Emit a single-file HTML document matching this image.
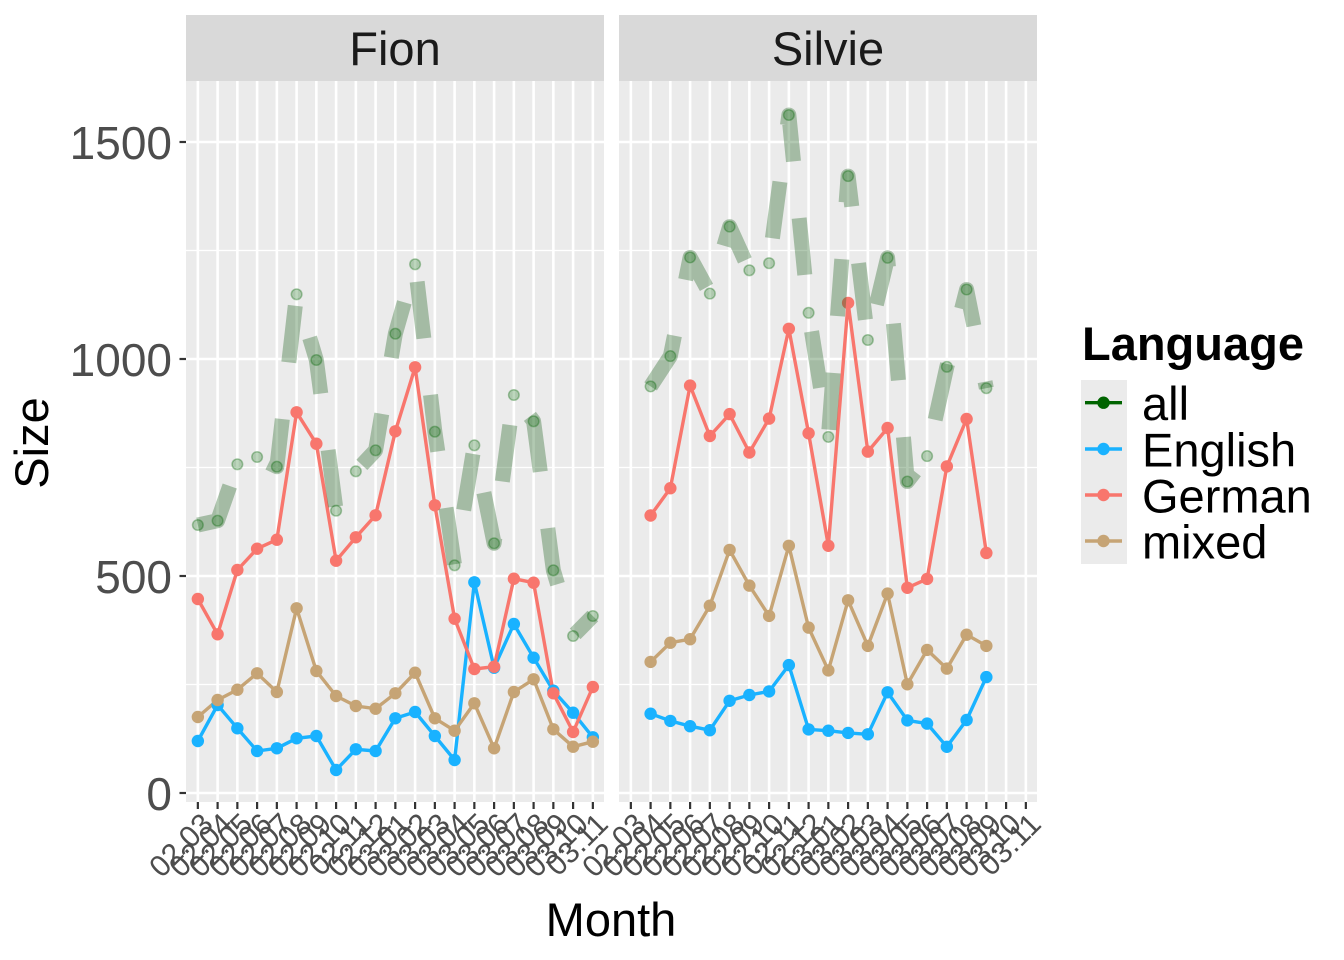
<!DOCTYPE html>
<html>
<head>
<meta charset="utf-8">
<style>
  html,body{margin:0;padding:0;background:#fff;}
  svg{display:block;font-family:"Liberation Sans",Arial,sans-serif;}
</style>
</head>
<body>
<svg width="1344" height="960" viewBox="0 0 1344 960" xmlns="http://www.w3.org/2000/svg">
<defs>
  <marker id="mB" viewBox="0 0 14 14" refX="7" refY="7" markerWidth="14" markerHeight="14" markerUnits="userSpaceOnUse"><circle cx="7" cy="7" r="6.2" fill="#19B2FF"/></marker>
  <marker id="mR" viewBox="0 0 14 14" refX="7" refY="7" markerWidth="14" markerHeight="14" markerUnits="userSpaceOnUse"><circle cx="7" cy="7" r="6.2" fill="#F8766D"/></marker>
  <marker id="mT" viewBox="0 0 14 14" refX="7" refY="7" markerWidth="14" markerHeight="14" markerUnits="userSpaceOnUse"><circle cx="7" cy="7" r="6.2" fill="#C6A475"/></marker>
  <marker id="mG" viewBox="0 0 14 14" refX="7" refY="7" markerWidth="14" markerHeight="14" markerUnits="userSpaceOnUse"><circle cx="7" cy="7" r="5.3" fill="rgba(0,100,0,0.26)" stroke="rgba(0,100,0,0.33)" stroke-width="1.5"/></marker>
</defs>

<!-- strips -->
<rect x="186" y="15" width="418" height="66" fill="#D9D9D9"/>
<rect x="619" y="15" width="418" height="66" fill="#D9D9D9"/>
<text x="395" y="65" font-size="47" fill="#1A1A1A" text-anchor="middle">Fion</text>
<text x="828" y="65" font-size="47" fill="#1A1A1A" text-anchor="middle">Silvie</text>

<!-- panels -->
<rect x="186" y="81" width="418" height="721" fill="#EBEBEB"/>
<rect x="619" y="81" width="418" height="721" fill="#EBEBEB"/>

<!-- minor horizontal grid -->
<g stroke="#FFFFFF" stroke-width="1.3">
  <line x1="186" x2="604" y1="250.5" y2="250.5"/><line x1="186" x2="604" y1="467.5" y2="467.5"/><line x1="186" x2="604" y1="684.5" y2="684.5"/>
  <line x1="619" x2="1037" y1="250.5" y2="250.5"/><line x1="619" x2="1037" y1="467.5" y2="467.5"/><line x1="619" x2="1037" y1="684.5" y2="684.5"/>
</g>
<!-- major horizontal grid -->
<g stroke="#FFFFFF" stroke-width="2.6">
  <line x1="186" x2="604" y1="142" y2="142"/><line x1="186" x2="604" y1="359" y2="359"/><line x1="186" x2="604" y1="576" y2="576"/><line x1="186" x2="604" y1="793" y2="793"/>
  <line x1="619" x2="1037" y1="142" y2="142"/><line x1="619" x2="1037" y1="359" y2="359"/><line x1="619" x2="1037" y1="576" y2="576"/><line x1="619" x2="1037" y1="793" y2="793"/>
</g>
<!-- vertical grid -->
<g stroke="#FFFFFF" stroke-width="2.6">
  <line x1="197.85" x2="197.85" y1="81" y2="802"/><line x1="217.6" x2="217.6" y1="81" y2="802"/><line x1="237.35" x2="237.35" y1="81" y2="802"/><line x1="257.1" x2="257.1" y1="81" y2="802"/><line x1="276.85" x2="276.85" y1="81" y2="802"/><line x1="296.6" x2="296.6" y1="81" y2="802"/><line x1="316.35" x2="316.35" y1="81" y2="802"/><line x1="336.1" x2="336.1" y1="81" y2="802"/><line x1="355.85" x2="355.85" y1="81" y2="802"/><line x1="375.6" x2="375.6" y1="81" y2="802"/><line x1="395.35" x2="395.35" y1="81" y2="802"/><line x1="415.1" x2="415.1" y1="81" y2="802"/><line x1="434.85" x2="434.85" y1="81" y2="802"/><line x1="454.6" x2="454.6" y1="81" y2="802"/><line x1="474.35" x2="474.35" y1="81" y2="802"/><line x1="494.1" x2="494.1" y1="81" y2="802"/><line x1="513.85" x2="513.85" y1="81" y2="802"/><line x1="533.6" x2="533.6" y1="81" y2="802"/><line x1="553.35" x2="553.35" y1="81" y2="802"/><line x1="573.1" x2="573.1" y1="81" y2="802"/><line x1="592.85" x2="592.85" y1="81" y2="802"/>
  <line x1="630.85" x2="630.85" y1="81" y2="802"/><line x1="650.6" x2="650.6" y1="81" y2="802"/><line x1="670.35" x2="670.35" y1="81" y2="802"/><line x1="690.1" x2="690.1" y1="81" y2="802"/><line x1="709.85" x2="709.85" y1="81" y2="802"/><line x1="729.6" x2="729.6" y1="81" y2="802"/><line x1="749.35" x2="749.35" y1="81" y2="802"/><line x1="769.1" x2="769.1" y1="81" y2="802"/><line x1="788.85" x2="788.85" y1="81" y2="802"/><line x1="808.6" x2="808.6" y1="81" y2="802"/><line x1="828.35" x2="828.35" y1="81" y2="802"/><line x1="848.1" x2="848.1" y1="81" y2="802"/><line x1="867.85" x2="867.85" y1="81" y2="802"/><line x1="887.6" x2="887.6" y1="81" y2="802"/><line x1="907.35" x2="907.35" y1="81" y2="802"/><line x1="927.1" x2="927.1" y1="81" y2="802"/><line x1="946.85" x2="946.85" y1="81" y2="802"/><line x1="966.6" x2="966.6" y1="81" y2="802"/><line x1="986.35" x2="986.35" y1="81" y2="802"/><line x1="1006.1" x2="1006.1" y1="81" y2="802"/><line x1="1025.85" x2="1025.85" y1="81" y2="802"/>
</g>

<!-- colored lines -->
<g fill="none" stroke-width="3.4" stroke-linejoin="round">
  <polyline stroke="#19B2FF" points="197.85,741 217.6,705 237.35,728.3 257.1,751 276.85,748.3 296.6,738.3 316.35,736 336.1,770 355.85,749.3 375.6,751 395.35,718.3 415.1,712 434.85,736 454.6,760 474.35,582.3 494.1,667.7 513.85,624 533.6,657.7 553.35,690.7 573.1,712.7 592.85,737.3"/>
  <polyline stroke="#F8766D" points="197.85,599 217.6,634.3 237.35,570 257.1,548.7 276.85,539.7 296.6,412.3 316.35,443.7 336.1,560.7 355.85,537.3 375.6,515.3 395.35,431.3 415.1,367.3 434.85,505.3 454.6,618.7 474.35,669 494.1,666.7 513.85,578.7 533.6,582.7 553.35,693.3 573.1,732 592.85,687"/>
  <polyline stroke="#C6A475" points="197.85,717 217.6,700 237.35,689.7 257.1,673.3 276.85,692 296.6,608.3 316.35,671 336.1,696 355.85,706 375.6,708.7 395.35,693.3 415.1,672.7 434.85,718.3 454.6,730.7 474.35,703.3 494.1,748.3 513.85,692 533.6,679.3 553.35,729.3 573.1,746.7 592.85,741.7"/>
  <polyline stroke="#19B2FF" points="650.6,713.7 670.35,720.9 690.1,726.2 709.85,730.2 729.6,700.8 749.35,695 769.1,691.4 788.85,665.1 808.6,729.4 828.35,730.7 848.1,732.9 867.85,734.3 887.6,692.3 907.35,720.4 927.1,723.6 946.85,746.8 966.6,720 986.35,677.1"/>
  <polyline stroke="#F8766D" points="650.6,515.5 670.35,488.2 690.1,385.6 709.85,436 729.6,414.1 749.35,452.5 769.1,418.6 788.85,328.8 808.6,433.3 828.35,545.8 848.1,302.9 867.85,451.6 887.6,428 907.35,587.8 927.1,578.9 946.85,466.4 966.6,419 986.35,553"/>
  <polyline stroke="#C6A475" points="650.6,661.9 670.35,642.7 690.1,639.2 709.85,605.7 729.6,549.9 749.35,585.6 769.1,615.9 788.85,545.8 808.6,627.6 828.35,670.4 848.1,600.3 867.85,645.9 887.6,593.6 907.35,684.3 927.1,649.9 946.85,668.6 966.6,634.7 986.35,645.9"/>
</g>
<!-- points -->
<g fill="none" stroke="none">
  <polyline marker-start="url(#mB)" marker-mid="url(#mB)" marker-end="url(#mB)" points="197.85,741 217.6,705 237.35,728.3 257.1,751 276.85,748.3 296.6,738.3 316.35,736 336.1,770 355.85,749.3 375.6,751 395.35,718.3 415.1,712 434.85,736 454.6,760 474.35,582.3 494.1,667.7 513.85,624 533.6,657.7 553.35,690.7 573.1,712.7 592.85,737.3"/>
  <polyline marker-start="url(#mR)" marker-mid="url(#mR)" marker-end="url(#mR)" points="197.85,599 217.6,634.3 237.35,570 257.1,548.7 276.85,539.7 296.6,412.3 316.35,443.7 336.1,560.7 355.85,537.3 375.6,515.3 395.35,431.3 415.1,367.3 434.85,505.3 454.6,618.7 474.35,669 494.1,666.7 513.85,578.7 533.6,582.7 553.35,693.3 573.1,732 592.85,687"/>
  <polyline marker-start="url(#mT)" marker-mid="url(#mT)" marker-end="url(#mT)" points="197.85,717 217.6,700 237.35,689.7 257.1,673.3 276.85,692 296.6,608.3 316.35,671 336.1,696 355.85,706 375.6,708.7 395.35,693.3 415.1,672.7 434.85,718.3 454.6,730.7 474.35,703.3 494.1,748.3 513.85,692 533.6,679.3 553.35,729.3 573.1,746.7 592.85,741.7"/>
  <polyline marker-start="url(#mB)" marker-mid="url(#mB)" marker-end="url(#mB)" points="650.6,713.7 670.35,720.9 690.1,726.2 709.85,730.2 729.6,700.8 749.35,695 769.1,691.4 788.85,665.1 808.6,729.4 828.35,730.7 848.1,732.9 867.85,734.3 887.6,692.3 907.35,720.4 927.1,723.6 946.85,746.8 966.6,720 986.35,677.1"/>
  <polyline marker-start="url(#mR)" marker-mid="url(#mR)" marker-end="url(#mR)" points="650.6,515.5 670.35,488.2 690.1,385.6 709.85,436 729.6,414.1 749.35,452.5 769.1,418.6 788.85,328.8 808.6,433.3 828.35,545.8 848.1,302.9 867.85,451.6 887.6,428 907.35,587.8 927.1,578.9 946.85,466.4 966.6,419 986.35,553"/>
  <polyline marker-start="url(#mT)" marker-mid="url(#mT)" marker-end="url(#mT)" points="650.6,661.9 670.35,642.7 690.1,639.2 709.85,605.7 729.6,549.9 749.35,585.6 769.1,615.9 788.85,545.8 808.6,627.6 828.35,670.4 848.1,600.3 867.85,645.9 887.6,593.6 907.35,684.3 927.1,649.9 946.85,668.6 966.6,634.7 986.35,645.9"/>
</g>

<!-- "all" dashed thick line -->
<g fill="none" stroke="rgb(20,90,20)" stroke-opacity="0.33" stroke-width="15" stroke-dasharray="57 57" stroke-linecap="butt" stroke-linejoin="round">
  <polyline points="197.85,525 217.6,520.7 237.35,464.3 257.1,457 276.85,466.7 296.6,294.3 316.35,360 336.1,510.7 355.85,471.3 375.6,450.3 395.35,333.7 415.1,264.3 434.85,431.7 454.6,565.3 474.35,445.3 494.1,543.3 513.85,395 533.6,421.3 553.35,570.3 573.1,636 592.85,616"/>
  <polyline points="650.6,386.4 670.35,356.1 690.1,257.4 709.85,293.6 729.6,226.6 749.35,270.3 769.1,263.2 788.85,115 808.6,312.8 828.35,436.9 848.1,176.1 867.85,340 887.6,257.8 907.35,481.5 927.1,456.1 946.85,366.8 966.6,289.5 986.35,388.2"/>
</g>
<g fill="none" stroke="none">
  <polyline marker-start="url(#mG)" marker-mid="url(#mG)" marker-end="url(#mG)" points="197.85,525 217.6,520.7 237.35,464.3 257.1,457 276.85,466.7 296.6,294.3 316.35,360 336.1,510.7 355.85,471.3 375.6,450.3 395.35,333.7 415.1,264.3 434.85,431.7 454.6,565.3 474.35,445.3 494.1,543.3 513.85,395 533.6,421.3 553.35,570.3 573.1,636 592.85,616"/>
  <polyline marker-start="url(#mG)" marker-mid="url(#mG)" marker-end="url(#mG)" points="650.6,386.4 670.35,356.1 690.1,257.4 709.85,293.6 729.6,226.6 749.35,270.3 769.1,263.2 788.85,115 808.6,312.8 828.35,436.9 848.1,176.1 867.85,340 887.6,257.8 907.35,481.5 927.1,456.1 946.85,366.8 966.6,289.5 986.35,388.2"/>
</g>

<!-- y axis ticks & labels -->
<g stroke="#333333" stroke-width="2.2">
  <line x1="179.5" x2="186" y1="142" y2="142"/><line x1="179.5" x2="186" y1="359" y2="359"/><line x1="179.5" x2="186" y1="576" y2="576"/><line x1="179.5" x2="186" y1="793" y2="793"/>
</g>
<g font-size="46" fill="#4D4D4D" text-anchor="end">
  <text x="172" y="159">1500</text>
  <text x="172" y="376">1000</text>
  <text x="172" y="593">500</text>
  <text x="172" y="810">0</text>
</g>

<!-- x axis ticks -->
<g stroke="#333333" stroke-width="2.2">
  <line x1="197.85" x2="197.85" y1="802" y2="809"/><line x1="217.6" x2="217.6" y1="802" y2="809"/><line x1="237.35" x2="237.35" y1="802" y2="809"/><line x1="257.1" x2="257.1" y1="802" y2="809"/><line x1="276.85" x2="276.85" y1="802" y2="809"/><line x1="296.6" x2="296.6" y1="802" y2="809"/><line x1="316.35" x2="316.35" y1="802" y2="809"/><line x1="336.1" x2="336.1" y1="802" y2="809"/><line x1="355.85" x2="355.85" y1="802" y2="809"/><line x1="375.6" x2="375.6" y1="802" y2="809"/><line x1="395.35" x2="395.35" y1="802" y2="809"/><line x1="415.1" x2="415.1" y1="802" y2="809"/><line x1="434.85" x2="434.85" y1="802" y2="809"/><line x1="454.6" x2="454.6" y1="802" y2="809"/><line x1="474.35" x2="474.35" y1="802" y2="809"/><line x1="494.1" x2="494.1" y1="802" y2="809"/><line x1="513.85" x2="513.85" y1="802" y2="809"/><line x1="533.6" x2="533.6" y1="802" y2="809"/><line x1="553.35" x2="553.35" y1="802" y2="809"/><line x1="573.1" x2="573.1" y1="802" y2="809"/><line x1="592.85" x2="592.85" y1="802" y2="809"/>
  <line x1="630.85" x2="630.85" y1="802" y2="809"/><line x1="650.6" x2="650.6" y1="802" y2="809"/><line x1="670.35" x2="670.35" y1="802" y2="809"/><line x1="690.1" x2="690.1" y1="802" y2="809"/><line x1="709.85" x2="709.85" y1="802" y2="809"/><line x1="729.6" x2="729.6" y1="802" y2="809"/><line x1="749.35" x2="749.35" y1="802" y2="809"/><line x1="769.1" x2="769.1" y1="802" y2="809"/><line x1="788.85" x2="788.85" y1="802" y2="809"/><line x1="808.6" x2="808.6" y1="802" y2="809"/><line x1="828.35" x2="828.35" y1="802" y2="809"/><line x1="848.1" x2="848.1" y1="802" y2="809"/><line x1="867.85" x2="867.85" y1="802" y2="809"/><line x1="887.6" x2="887.6" y1="802" y2="809"/><line x1="907.35" x2="907.35" y1="802" y2="809"/><line x1="927.1" x2="927.1" y1="802" y2="809"/><line x1="946.85" x2="946.85" y1="802" y2="809"/><line x1="966.6" x2="966.6" y1="802" y2="809"/><line x1="986.35" x2="986.35" y1="802" y2="809"/><line x1="1006.1" x2="1006.1" y1="802" y2="809"/><line x1="1025.85" x2="1025.85" y1="802" y2="809"/>
</g>

<!-- x tick labels -->
<g font-size="30" fill="#4D4D4D" text-anchor="end">
  <text transform="translate(199.85,811) rotate(-45)" y="21">02.03</text>
  <text transform="translate(219.6,811) rotate(-45)" y="21">02.04</text>
  <text transform="translate(239.35,811) rotate(-45)" y="21">02.05</text>
  <text transform="translate(259.1,811) rotate(-45)" y="21">02.06</text>
  <text transform="translate(278.85,811) rotate(-45)" y="21">02.07</text>
  <text transform="translate(298.6,811) rotate(-45)" y="21">02.08</text>
  <text transform="translate(318.35,811) rotate(-45)" y="21">02.09</text>
  <text transform="translate(338.1,811) rotate(-45)" y="21">02.10</text>
  <text transform="translate(357.85,811) rotate(-45)" y="21">02.11</text>
  <text transform="translate(377.6,811) rotate(-45)" y="21">02.12</text>
  <text transform="translate(397.35,811) rotate(-45)" y="21">03.01</text>
  <text transform="translate(417.1,811) rotate(-45)" y="21">03.02</text>
  <text transform="translate(436.85,811) rotate(-45)" y="21">03.03</text>
  <text transform="translate(456.6,811) rotate(-45)" y="21">03.04</text>
  <text transform="translate(476.35,811) rotate(-45)" y="21">03.05</text>
  <text transform="translate(496.1,811) rotate(-45)" y="21">03.06</text>
  <text transform="translate(515.85,811) rotate(-45)" y="21">03.07</text>
  <text transform="translate(535.6,811) rotate(-45)" y="21">03.08</text>
  <text transform="translate(555.35,811) rotate(-45)" y="21">03.09</text>
  <text transform="translate(575.1,811) rotate(-45)" y="21">03.10</text>
  <text transform="translate(594.85,811) rotate(-45)" y="21">03.11</text>
  <text transform="translate(632.85,811) rotate(-45)" y="21">02.03</text>
  <text transform="translate(652.6,811) rotate(-45)" y="21">02.04</text>
  <text transform="translate(672.35,811) rotate(-45)" y="21">02.05</text>
  <text transform="translate(692.1,811) rotate(-45)" y="21">02.06</text>
  <text transform="translate(711.85,811) rotate(-45)" y="21">02.07</text>
  <text transform="translate(731.6,811) rotate(-45)" y="21">02.08</text>
  <text transform="translate(751.35,811) rotate(-45)" y="21">02.09</text>
  <text transform="translate(771.1,811) rotate(-45)" y="21">02.10</text>
  <text transform="translate(790.85,811) rotate(-45)" y="21">02.11</text>
  <text transform="translate(810.6,811) rotate(-45)" y="21">02.12</text>
  <text transform="translate(830.35,811) rotate(-45)" y="21">03.01</text>
  <text transform="translate(850.1,811) rotate(-45)" y="21">03.02</text>
  <text transform="translate(869.85,811) rotate(-45)" y="21">03.03</text>
  <text transform="translate(889.6,811) rotate(-45)" y="21">03.04</text>
  <text transform="translate(909.35,811) rotate(-45)" y="21">03.05</text>
  <text transform="translate(929.1,811) rotate(-45)" y="21">03.06</text>
  <text transform="translate(948.85,811) rotate(-45)" y="21">03.07</text>
  <text transform="translate(968.6,811) rotate(-45)" y="21">03.08</text>
  <text transform="translate(988.35,811) rotate(-45)" y="21">03.09</text>
  <text transform="translate(1008.1,811) rotate(-45)" y="21">03.10</text>
  <text transform="translate(1027.85,811) rotate(-45)" y="21">03.11</text>
</g>

<!-- axis titles -->
<text x="611" y="936" font-size="47" fill="#000" text-anchor="middle">Month</text>
<text transform="translate(48,443) rotate(-90)" font-size="47" fill="#000" text-anchor="middle">Size</text>

<!-- legend -->
<text x="1082" y="360" font-size="47" font-weight="bold" fill="#000">Language</text>
<rect x="1081" y="380" width="46" height="184" fill="#EBEBEB"/>
<g stroke-width="3.4">
  <line x1="1085" x2="1122" y1="402.7" y2="402.7" stroke="#006400"/>
  <line x1="1085" x2="1122" y1="449" y2="449" stroke="#19B2FF"/>
  <line x1="1085" x2="1122" y1="495" y2="495" stroke="#F8766D"/>
  <line x1="1085" x2="1122" y1="541" y2="541" stroke="#C6A475"/>
</g>
<circle cx="1103.5" cy="402.7" r="6.2" fill="#006400"/>
<circle cx="1103.5" cy="449" r="6.2" fill="#19B2FF"/>
<circle cx="1103.5" cy="495" r="6.2" fill="#F8766D"/>
<circle cx="1103.5" cy="541" r="6.2" fill="#C6A475"/>
<g font-size="47" fill="#000">
  <text x="1142" y="420">all</text>
  <text x="1142" y="466.5">English</text>
  <text x="1142" y="512.5">German</text>
  <text x="1142" y="558.5">mixed</text>
</g>
</svg>
</body>
</html>
